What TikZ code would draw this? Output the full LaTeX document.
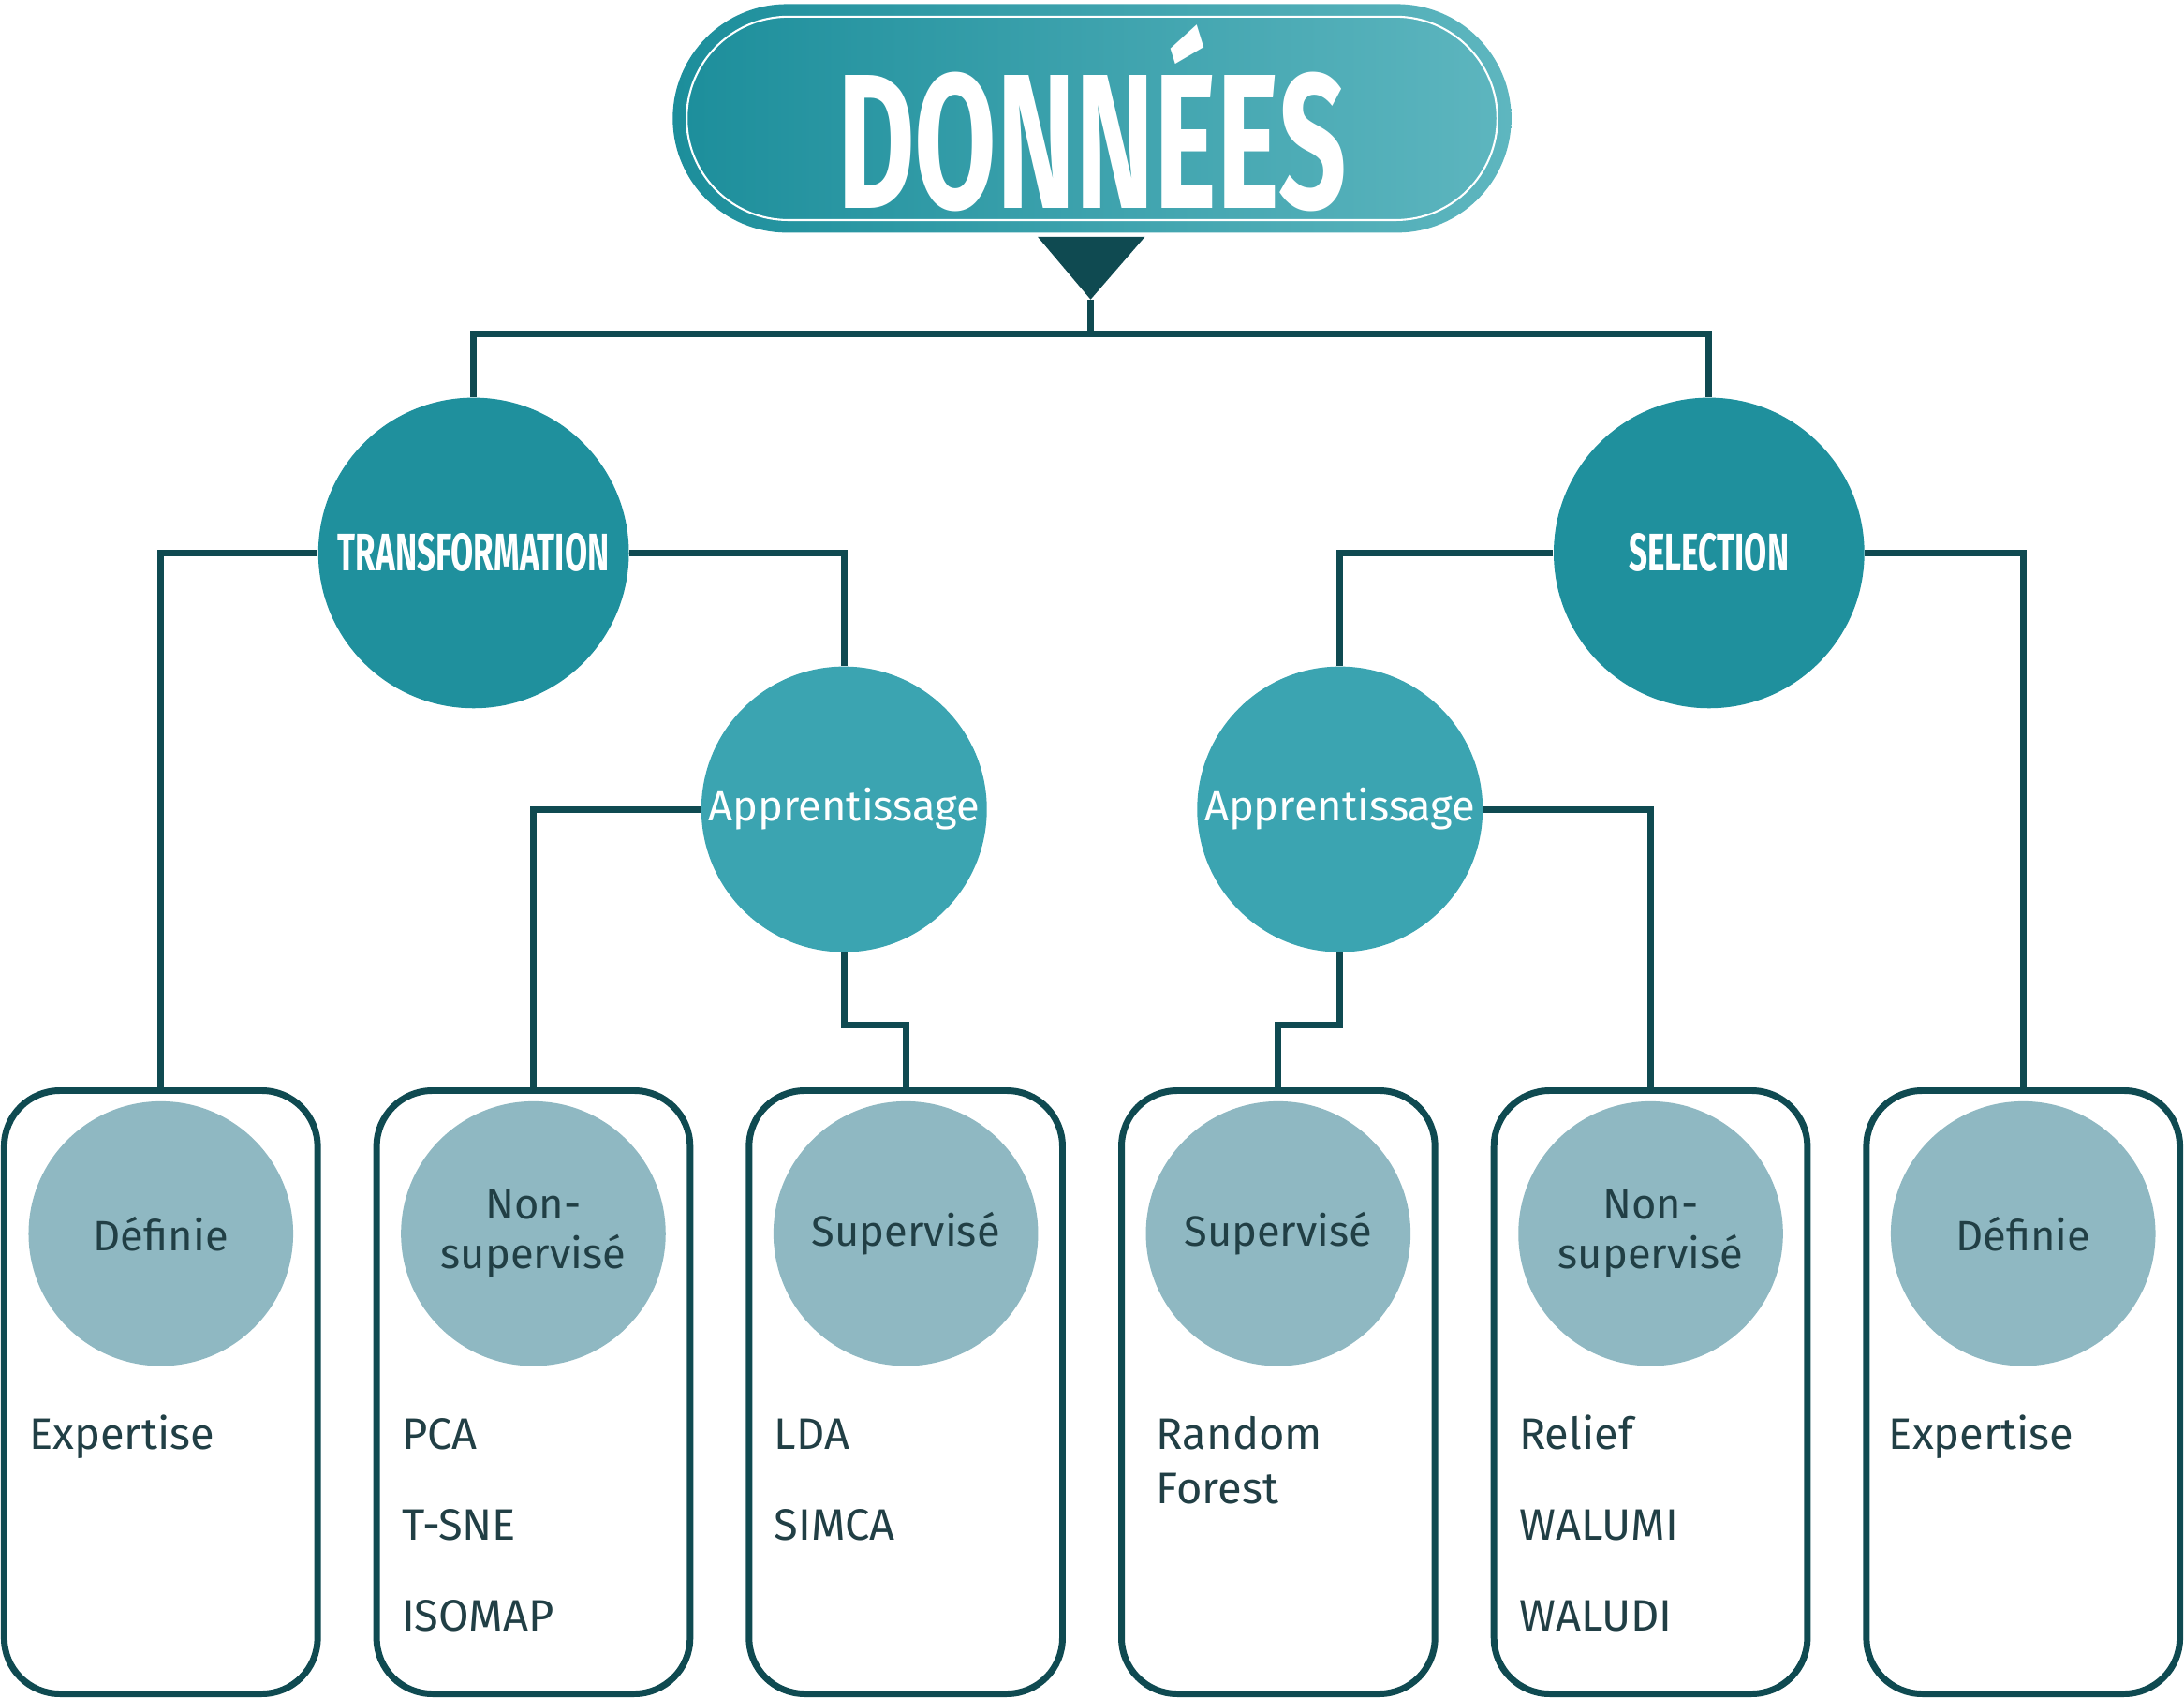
\documentclass[tikz,border=0pt]{standalone}
\usepackage{fontspec}
\setmainfont{Fira Sans}
\newfontfamily\titlefont[FakeStretch=0.62]{Fira Sans}
\usetikzlibrary{shapes.misc,calc}

\definecolor{linecol}{HTML}{0F4A51}
\definecolor{txtcol}{HTML}{213F45}
\definecolor{bigcol}{HTML}{1F909D}
\definecolor{midcol}{HTML}{3BA4B1}
\definecolor{smallcol}{HTML}{8FB8C2}
\definecolor{titleleft}{HTML}{1C8E9B}
\definecolor{titleright}{HTML}{5EB6BF}

\tikzset{
  link/.style={draw=linecol,line width=2pt},
  titlebox/.style={rounded rectangle,minimum width=9.03cm,minimum height=2.46cm,
    inner sep=0pt,left color=titleleft,right color=titleright,text=white,
    font=\titlefont\bfseries\fontsize{58.8}{60}\selectfont},
  titlering/.style={rounded rectangle,minimum width=8.73cm,minimum height=2.19cm,
    inner sep=0pt,draw=white,line width=0.6pt},
  bigdisc/.style={circle,fill=bigcol,minimum size=3.345cm,inner sep=0pt,text=white,
    font=\titlefont\bfseries\fontsize{16.2}{18}\selectfont},
  middisc/.style={circle,fill=midcol,minimum size=3.075cm,inner sep=0pt,text=white,
    font=\fontsize{13}{15}\selectfont},
  smalldisc/.style={circle,fill=smallcol,minimum size=2.85cm,inner sep=0pt,text=txtcol,
    align=center,font=\fontsize{13}{15}\selectfont},
  panel/.style={draw=linecol,line width=2pt,rounded corners=0.6cm,
    minimum width=3.375cm,minimum height=6.495cm,inner sep=0pt},
  item/.style={anchor=base west,text=txtcol,inner sep=0pt,align=left,
    font=\fontsize{13.5}{16.6}\selectfont},
}

\begin{document}
\begin{tikzpicture}[x=0.015cm,y=-0.015cm]
  \useasboundingbox (0,0) rectangle (1568,1219);

  \def\pitch{267.4}% distance between panels
  \def\first{115.5}% x of first panel
  \def\down{260}% panel top to first item baseline
  \def\row{65}% item spacing

  % title
  \node[titlebox] (donnees) at (784,85) {DONNÉES};
  \node[titlering] (ring) at (donnees) {};
  \coordinate (tip) at (783,215);
  \fill[linecol] (745,170) -- (822,170) -- (tip) -- cycle;
  \coordinate (hub) at (783,240);

  % main branches
  \node[bigdisc] (trans) at (340,397) {TRANSFORMATION};
  \node[bigdisc] (sel) at (1227,397) {SELECTION};
  \node[middisc] (apprT) at (606,581) {Apprentissage};
  \node[middisc] (apprS) at (962,581) {Apprentissage};

  % panels
  \foreach \i/\nm/\lbl in {0/defT/Définie,1/nsupT/{Non-\\supervisé},2/supT/Supervisé,
      3/supS/Supervisé,4/nsupS/{Non-\\supervisé},5/defS/Définie}{
    \node[panel] (box\nm) at (\first+\pitch*\i,999.5) {};
    \node[smalldisc] (\nm) at ($(box\nm.north)+(0,105)$) {\lbl};
  }

  % items
  \node[item] (expT) at ($(boxdefT.north west)+(20,\down)$) {Expertise};
  \node[item] (pca) at ($(boxnsupT.north west)+(20,\down)$) {PCA};
  \node[item] (tsne) at ($(pca.base west)+(0,\row)$) {T-SNE};
  \node[item] (isomap) at ($(tsne.base west)+(0,\row)$) {ISOMAP};
  \node[item] (lda) at ($(boxsupT.north west)+(20,\down)$) {LDA};
  \node[item] (simca) at ($(lda.base west)+(0,\row)$) {SIMCA};
  \node[item] (rf) at ($(boxsupS.north west)+(27,\down+39)$) {Random\\Forest};
  \node[item] (relief) at ($(boxnsupS.north west)+(20,\down)$) {Relief};
  \node[item] (walumi) at ($(relief.base west)+(0,\row)$) {WALUMI};
  \node[item] (waludi) at ($(walumi.base west)+(0,\row)$) {WALUDI};
  \node[item] (expS) at ($(boxdefS.north west)+(18,\down)$) {Expertise};

  % connectors
  \draw[link] (tip) -- (hub);
  \draw[link] (trans.north) |- (hub) -| (sel.north);
  \draw[link] (trans.west) -| (boxdefT.north);
  \draw[link] (trans.east) -| (apprT.north);
  \draw[link] (apprT.west) -| (boxnsupT.north);
  \draw[link] (apprT.south) -- ++(0,52) -| (boxsupT.north);
  \draw[link] (apprS.south) -- ++(0,52) -| (boxsupS.north);
  \draw[link] (apprS.east) -| (boxnsupS.north);
  \draw[link] (sel.west) -| (apprS.north);
  \draw[link] (sel.east) -| (boxdefS.north);
\end{tikzpicture}
\end{document}
